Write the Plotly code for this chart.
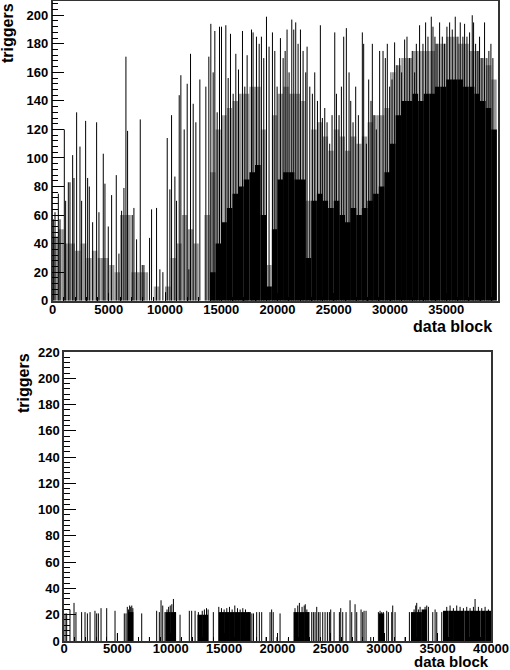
import plotly.graph_objects as go

# ---- top panel: triggers per data block ----
top_spike_x = [74, 222, 518, 666, 1051, 1169, 1406, 1554, 1791, 1909, 2146, 2442, 2590, 2945,
               3123, 3271, 3567, 3922, 4129, 4514, 4662, 4958, 5254, 5668, 5905, 6142, 6349,
               6527, 6675, 7089, 7237, 7474, 7800, 7977, 8125, 8628, 8806, 9250, 9546, 9812,
               10049, 10197, 10434, 10582, 10878, 11026, 11263, 11411, 11707, 11973, 12121,
               12269, 12506, 12743, 13098, 13631, 13897, 14075, 14282, 14430, 14637, 14844,
               15022, 15407, 15614, 15821, 16058, 16295, 16532, 16887, 17094, 17301,
               17690, 17830, 18130, 18370, 18570, 18780, 19020, 19250, 19550, 19760, 19965,
               20260, 20500, 20680, 20850, 21030, 21270, 21445, 21620, 21830, 22040, 22275,
               22510, 22630, 22870, 23100, 23310, 23550, 23810, 23990, 24200, 24405, 24640,
               24850, 25090, 25240, 25470, 25680, 25885, 26120, 26360, 26510, 26715, 26950,
               27190, 27540, 27660, 27900, 28105, 28310, 28430, 28580, 28785, 29080, 29380,
               29585, 29760, 29970, 30180, 30410, 30620, 30860, 31035, 31300, 31510, 31745,
               31980, 32190, 32340, 32630, 32930, 33165, 33375, 33670, 33820, 33995, 34175,
               34410, 34650, 34855, 35060, 35300, 35535, 35800, 36040, 36245, 36480, 36630,
               36840, 37075, 37310, 37430, 37610, 37815, 37960, 38170, 38405, 38610, 38790,
               38970, 39145]
top_spike_y = [57, 62, 75, 57, 120, 70, 83, 83, 102, 86, 132, 108, 70, 126,
               86, 80, 55, 125, 62, 103, 82, 52, 74, 88, 33, 63, 79,
               171, 119, 60, 65, 43, 127, 25, 25, 44, 64, 65, 22, 20,
               6, 114, 78, 130, 87, 70, 144, 158, 120, 152, 22,
               173, 138, 125, 155, 150, 171, 194, 160, 189, 132, 192,
               192, 193, 156, 187, 145, 173, 162, 189, 150, 172,
               190, 188, 185, 180, 185, 170, 199, 178, 188, 175, 150,
               184, 170, 175, 190, 160, 197, 190, 195, 180, 190, 175,
               160, 178, 150, 145, 160, 140, 193, 128, 135, 125, 110,
               130, 188, 145, 130, 150, 185, 191, 160, 140, 125, 150,
               130, 188, 180, 110, 155, 140, 180, 130, 120, 175, 175,
               170, 180, 150, 155, 181, 165, 170, 160, 183, 185, 170,
               175, 160, 180, 193, 180, 195, 185, 199, 192, 185, 180,
               195, 185, 180, 192, 195, 190, 199, 185, 195, 185, 194,
               185, 188, 200, 195, 180, 175, 185, 170, 195, 170, 175,
               180, 170]

# per 500-block bin: solid black level, and level reached by dense lines
top_floor = [0, 0, 0, 0, 0, 0, 0, 0, 0, 0, 0, 0, 0, 0, 0, 0, 0, 0, 0, 0,
             0, 0, 0, 0, 0, 0, 0, 0, 20, 40, 55, 65, 75, 80, 85, 90, 95, 60, 10, 50,
             85, 90, 90, 85, 85, 30, 70, 75, 70, 65, 70, 60, 55, 65, 60, 65, 70, 75, 80, 90,
             110, 130, 140, 140, 145, 140, 145, 145, 150, 150, 155, 155, 155, 150, 150, 145,
             140, 135, 120]
top_dense = [45, 50, 40, 40, 35, 40, 30, 35, 30, 30, 25, 20, 60, 60, 20, 20, 20, 0, 10, 0,
             10, 30, 40, 60, 50, 40, 0, 60, 90, 120, 130, 135, 140, 145, 145, 150, 150, 120,
             25, 130, 145, 150, 145, 145, 140, 70, 120, 125, 115, 105, 120, 115, 105, 115,
             110, 115, 125, 130, 130, 135, 160, 165, 170, 170, 175, 175, 175, 175, 180, 180,
             185, 185, 180, 180, 175, 175, 170, 165, 155]

# ---- bottom panel ----
bot_spike_x = [100, 250, 560, 940, 1120, 1650, 1970, 2190, 2440, 2900, 3060, 3220, 3470, 4000,
               4780, 5000, 5650, 5810, 5930, 6050, 6150, 6250, 6350, 6450, 7280, 8000, 8680,
               8930, 9090, 9250, 9460, 9650, 9800, 9950, 10100, 10250, 10400, 10870, 10990,
               11740, 11960, 12280, 12590, 12950, 13150, 13350, 13500, 13990, 14500, 14750,
               15000, 15250, 15500, 15750, 16000, 16250, 16500, 16750, 17000, 17300, 17600,
               17750, 18050, 18300, 18520, 18930, 19300, 19450, 19600, 19950, 20240, 21020,
               21640, 21900, 22050, 22300, 22500, 22600, 22750, 22890, 23206, 23362, 23518,
               23674, 23830, 23986, 24236, 24455, 24673, 24860, 24985, 25298, 25798, 25923,
               26110, 26422, 26797, 26953, 27265, 27422, 27828, 27984, 28109, 28296, 28733,
               29452, 29608, 29764, 29920, 30232, 30388, 30700, 30794, 31013, 31950, 32356,
               32793, 32950, 33043, 33200, 33356, 33512, 33824, 33980, 34137, 34543, 34762,
               34918, 35386, 35855, 36166, 36478, 36790, 37103, 37415, 37727, 38039, 38352,
               38508, 38820, 39133, 39445, 39757]
bot_spike_y = [21, 21, 24, 29, 22, 22, 22, 21, 22, 23, 21, 21, 25, 25,
               23, 6, 21, 21, 26, 24, 27, 26, 27, 25, 21, 3, 23,
               22, 31, 27, 22, 24, 26, 27, 28, 32, 22, 20, 2,
               23, 23, 23, 22, 23, 24, 25, 24, 22, 26, 25,
               24, 25, 26, 24, 27, 25, 24, 25, 24, 22, 21,
               21, 22, 22, 22, 3, 22, 24, 22, 3, 21, 2,
               25, 27, 29, 26, 27, 28, 24, 22, 22, 22, 22,
               26, 22, 22, 22, 22, 22, 22, 24, 22, 22, 25,
               22, 22, 31, 22, 28, 22, 24, 22, 23, 23, 3,
               22, 23, 22, 22, 23, 22, 22, 27, 22, 3, 22,
               24, 27, 29, 24, 26, 22, 26, 27, 26, 22, 24,
               22, 22, 26, 27, 25, 27, 26, 25, 26, 25, 26,
               32, 26, 25, 26, 24]
bot_floor = [0, 0, 0, 0, 0, 0, 0, 0, 0, 0, 0, 0, 22, 0, 0, 0, 0, 0, 0, 22,
             22, 0, 0, 0, 0, 20, 20, 0, 0, 22, 22, 22, 22, 22, 22, 0, 0, 0, 0, 0,
             0, 0, 0, 22, 22, 22, 0, 0, 0, 0, 0, 0, 0, 0, 0, 0, 0, 0, 0, 21,
             0, 0, 0, 0, 0, 22, 22, 24, 0, 0, 0, 23, 23, 23, 23, 23, 23, 23, 23, 23]

BIN = 500
FONT = "Liberation Sans"
W, H = 510, 670


def spike_path(xs, ys):
    px, py = [], []
    for x, y in zip(xs, ys):
        px += [x, x, None]
        py += [0, y, None]
    return px, py


def centers(vals):
    return [BIN * i + BIN / 2 for i in range(len(vals))]


lines_pattern = dict(shape="|", size=3, solidity=0.75, fgcolor="black", bgcolor="white")

fig = go.Figure()

# top panel
fig.add_trace(go.Bar(x=centers(top_dense), y=top_dense, width=BIN,
                     marker=dict(color="white", line_width=0, pattern=lines_pattern),
                     xaxis="x", yaxis="y"))
fig.add_trace(go.Bar(x=centers(top_floor), y=top_floor, width=BIN,
                     marker=dict(color="black", line_width=0), xaxis="x", yaxis="y"))
sx, sy = spike_path(top_spike_x, top_spike_y)
fig.add_trace(go.Scatter(x=sx, y=sy, mode="lines", line=dict(color="black", width=1),
                         xaxis="x", yaxis="y"))

# bottom panel
fig.add_trace(go.Bar(x=centers(bot_floor), y=bot_floor, width=BIN,
                     marker=dict(color="black", line_width=0), xaxis="x2", yaxis="y2"))
bx, by = spike_path(bot_spike_x, bot_spike_y)
fig.add_trace(go.Scatter(x=bx, y=by, mode="lines", line=dict(color="black", width=1),
                         xaxis="x2", yaxis="y2"))

tickfont = dict(family=FONT, size=13, color="black", weight="bold")
common = dict(showline=True, mirror=True, linecolor="#333", linewidth=1.5,
              showgrid=False, zeroline=False, ticks="inside", tickcolor="black",
              tickfont=tickfont, tickformat="d", automargin=False)
xminor = dict(dtick=1000, ticklen=4, ticks="inside", tickcolor="black")
yminor = dict(dtick=4, ticklen=6, ticks="inside", tickcolor="black")

fig.update_layout(
    width=W, height=H,
    margin=dict(l=0, r=0, t=0, b=0),
    paper_bgcolor="white", plot_bgcolor="white",
    showlegend=False, barmode="overlay",
    xaxis=dict(domain=[52.5 / W, 498 / W], range=[0, 39600], dtick=5000, ticklen=8,
               minor=xminor, ticklabelstandoff=-4, anchor="y", **common),
    yaxis=dict(domain=[1 - 300.7 / H, 1 - 1 / H], range=[0, 210], dtick=20, ticklen=12,
               minor=yminor, anchor="x", **common),
    xaxis2=dict(domain=[64 / W, 491 / W], range=[0, 40000], dtick=5000, ticklen=8,
                minor=xminor, ticklabelstandoff=-5, anchor="y2", **common),
    yaxis2=dict(domain=[1 - 641 / H, 1 - 352 / H], range=[0, 220], dtick=20, ticklen=12,
                minor=yminor, anchor="x2", **common),
)

title_font = dict(family=FONT, size=16, color="black", weight="bold")
notes = [
    dict(x=8 / W, y=1 - 1 / H, text="triggers", textangle=-90, xanchor="center", yanchor="top"),
    dict(x=23 / W, y=1 - 351 / H, text="triggers", textangle=-90, xanchor="center", yanchor="top"),
    dict(x=494 / W, y=1 - 326 / H, text="data block", xanchor="right", yanchor="middle"),
    dict(x=491 / W, y=1 - 661 / H, text="data block", xanchor="right", yanchor="middle",
         font=dict(title_font, size=15)),
]
for n in notes:
    n.setdefault("font", title_font)
    fig.add_annotation(xref="paper", yref="paper", showarrow=False, **n)

# page body margin would push the 510x670 figure out of the window
fig.write_html("out.html", config=dict(displayModeBar=False),
               post_script="document.body.style.margin='0';document.body.style.overflow='hidden';")
